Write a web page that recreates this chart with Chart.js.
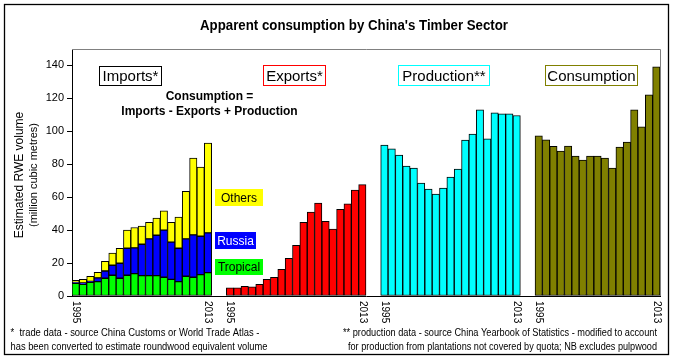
<!DOCTYPE html>
<html>
<head>
<meta charset="utf-8">
<script src="https://cdn.jsdelivr.net/npm/chart.js@4"></script>
<style>
  html, body { margin:0; padding:0; background:#fff; }
  canvas { display:block; }
</style>
</head>
<body>
<canvas id="timber" width="673" height="358"></canvas>
<script>
// ---- data (million m3 RWE) ----
const years       = ['1995','1996','1997','1998','1999','2000','2001','2002','2003','2004','2005','2006','2007','2008','2009','2010','2011','2012','2013'];
const tropical    = [7.7, 7.1, 8.3, 8.7, 10.8, 12.6, 10.8, 12.6, 13.6, 12.4, 12.4, 12.4, 11.4, 10.1, 8.7, 12.0, 11.4, 13.0, 14.2];
const russia      = [0.5, 0.8, 0.6, 2.3, 4.4, 6.1, 9.1, 16.4, 15.6, 19.0, 22.3, 24.5, 28.6, 22.6, 20.3, 22.7, 25.7, 23.3, 24.1];
const others      = [1.3, 2.2, 3.1, 3.4, 5.9, 7.3, 9.1, 11.0, 12.4, 11.0, 10.1, 10.4, 11.7, 12.1, 18.9, 28.8, 46.7, 42.0, 54.6];
const exportsVol  = [4.9, 4.9, 5.9, 5.5, 7.1, 10.1, 11.4, 16.2, 22.9, 30.8, 44.8, 50.9, 56.4, 45.4, 40.6, 52.7, 56.0, 64.3, 67.6];
const production  = [91.7, 89.3, 85.6, 78.9, 77.7, 68.6, 64.9, 61.9, 65.5, 72.2, 77.1, 94.7, 98.4, 113.0, 95.4, 111.2, 110.6, 110.6, 109.6];
// only 17 consumption bars are visible in the original (right end is cut off)
const consumption = [97.2, 94.9, 90.9, 88.0, 91.1, 85.0, 82.6, 85.0, 85.0, 83.8, 77.7, 90.5, 93.5, 113.0, 102.7, 122.1, 139.2];
const groupTicks  = ['1995', '2013'];
const yTicks      = [0, 20, 40, 60, 80, 100, 120, 140];

const FONT = "'Liberation Sans', Arial, sans-serif";

// category slots: 4 groups separated by 2 empty slots
const offsets = [0, 21, 42, 63];
const nCats   = offsets[3] + consumption.length;
const labels  = new Array(nCats).fill('');
[years, years, years, years.slice(0, consumption.length)].forEach((ys, g) => {
  ys.forEach((y, i) => { labels[offsets[g] + i] = y; });
});

function column(values, offset) {
  const a = new Array(nCats).fill(null);
  values.forEach((v, i) => { a[offset + i] = v; });
  return a;
}

const barStyle = { borderColor:'#000', borderWidth:1, borderSkipped:false, barPercentage:1, categoryPercentage:1 };

// ---- texts / boxes drawn on top ----
const decor = {
  id: 'decor',
  beforeDraw(chart) {
    const c = chart.ctx;
    c.save();
    c.fillStyle = '#fff';
    c.fillRect(0, 0, chart.width, chart.height);
    c.restore();
  },
  afterDraw(chart) {
    const c = chart.ctx;
    const a = chart.chartArea;
    const x = chart.scales.x;
    c.save();

    // plot area frame (top + right, grey)
    c.strokeStyle = '#808080';
    c.lineWidth = 1;
    c.beginPath();
    c.moveTo(a.left, a.top + 0.5);
    c.lineTo(a.right + 0.5, a.top + 0.5);
    c.lineTo(a.right + 0.5, a.bottom);
    c.stroke();

    // outer frame
    c.strokeStyle = '#000';
    c.lineWidth = 1.3;
    c.strokeRect(4.5, 4.5, 664, 350);

    // title
    c.fillStyle = '#000';
    c.textAlign = 'center';
    c.textBaseline = 'alphabetic';
    c.font = 'bold 14px ' + FONT;
    c.fillText("Apparent consumption by China's Timber Sector", 354, 30, 308);

    // y axis title
    c.save();
    c.translate(20, 175);
    c.rotate(-Math.PI / 2);
    c.textBaseline = 'middle';
    c.font = '12px ' + FONT;
    c.fillText('Estimated RWE volume', 0, 0);
    c.font = '11px ' + FONT;
    c.fillText('(million cubic metres)', 0, 14);
    c.restore();

    // year labels under each group, rotated clockwise
    c.font = '10px ' + FONT;
    c.textAlign = 'left';
    c.textBaseline = 'middle';
    const lengths = [years.length, years.length, years.length, consumption.length];
    offsets.forEach((off, g) => {
      [off, off + lengths[g] - 1].forEach((idx, k) => {
        c.save();
        c.translate(x.getPixelForValue(idx), 301);
        c.rotate(Math.PI / 2);
        c.fillText(groupTicks[k], 0, 0);
        c.restore();
      });
    });

    // group name boxes
    c.textAlign = 'center';
    c.font = '15px ' + FONT;
    [
      { t:'Imports*',      x:99.5,  y:66.5, w:62, h:19, col:'#000' },
      { t:'Exports*',      x:263.5, y:65.5, w:62, h:20, col:'#ff0000' },
      { t:'Production**',  x:398.5, y:65.5, w:91, h:20, col:'#00ffff' },
      { t:'Consumption',   x:545.5, y:65.5, w:92, h:20, col:'#808000' },
    ].forEach(b => {
      c.strokeStyle = b.col;
      c.lineWidth = 1;
      c.strokeRect(b.x, b.y, b.w, b.h);
      c.fillStyle = '#000';
      c.fillText(b.t, b.x + b.w / 2, b.y + b.h / 2 + 1);
    });

    // formula
    c.font = 'bold 12px ' + FONT;
    c.textBaseline = 'alphabetic';
    c.fillText('Consumption =', 209.5, 100);
    c.fillText('Imports - Exports + Production', 209.5, 115);

    // import legend tags
    c.font = '12px ' + FONT;
    c.textBaseline = 'middle';
    [
      { t:'Others',   x:215, y:189, w:48, h:17, bg:'#ffff00', fg:'#000' },
      { t:'Russia',   x:215, y:232, w:41, h:17, bg:'#0000ff', fg:'#fff' },
      { t:'Tropical', x:215, y:259, w:48, h:16, bg:'#00ff00', fg:'#000' },
    ].forEach(b => {
      c.fillStyle = b.bg;
      c.fillRect(b.x, b.y, b.w, b.h);
      c.fillStyle = b.fg;
      c.fillText(b.t, b.x + b.w / 2, b.y + b.h / 2 + 1);
    });

    // footnotes
    c.fillStyle = '#000';
    c.font = '10px ' + FONT;
    c.textAlign = 'left';
    c.fillText('*  trade data - source China Customs or World Trade Atlas -', 10.5, 333, 249);
    c.fillText('has been converted to estimate roundwood equivalent volume', 10.5, 347, 257);
    c.textAlign = 'right';
    c.fillText('** production data - source China Yearbook of Statistics - modified to account', 657, 333, 314);
    c.fillText('for production from plantations not covered by quota; NB excludes pulpwood', 657, 347, 309);

    c.restore();
  }
};

new Chart(document.getElementById('timber'), {
  type: 'bar',
  data: {
    labels,
    datasets: [
      { label:'Tropical',    data: column(tropical, offsets[0]),    backgroundColor:'#00ff00', ...barStyle },
      { label:'Russia',      data: column(russia, offsets[0]),      backgroundColor:'#0000ff', ...barStyle },
      { label:'Others',      data: column(others, offsets[0]),      backgroundColor:'#ffff00', ...barStyle },
      { label:'Exports',     data: column(exportsVol, offsets[1]),  backgroundColor:'#ff0000', ...barStyle },
      { label:'Production',  data: column(production, offsets[2]),  backgroundColor:'#00ffff', ...barStyle },
      { label:'Consumption', data: column(consumption, offsets[3]), backgroundColor:'#808000', ...barStyle },
    ],
  },
  options: {
    responsive: false,
    animation: false,
    devicePixelRatio: 1,
    layout: { padding: { left:0, right:13, top:49, bottom:0 } },
    plugins: { legend:{ display:false }, tooltip:{ enabled:false }, title:{ display:false } },
    scales: {
      x: {
        stacked: true,
        grid: { display:false },
        border: { display:true, color:'#000', width:1 },
        ticks: { display:false },
        afterFit: s => { s.height = 62; },
      },
      y: {
        stacked: true,
        min: 0, max: 150,
        border: { display:true, color:'#000', width:1 },
        grid: { drawOnChartArea:false, drawTicks:true, tickLength:5, color:'#000' },
        ticks: { stepSize:20, padding:3, color:'#000', font:{ family:FONT, size:11 } },
        afterBuildTicks: s => { s.ticks = yTicks.map(v => ({ value:v })); },
        afterFit: s => { s.width = 72; },
      },
    },
  },
  plugins: [decor],
});
</script>
</body>
</html>
